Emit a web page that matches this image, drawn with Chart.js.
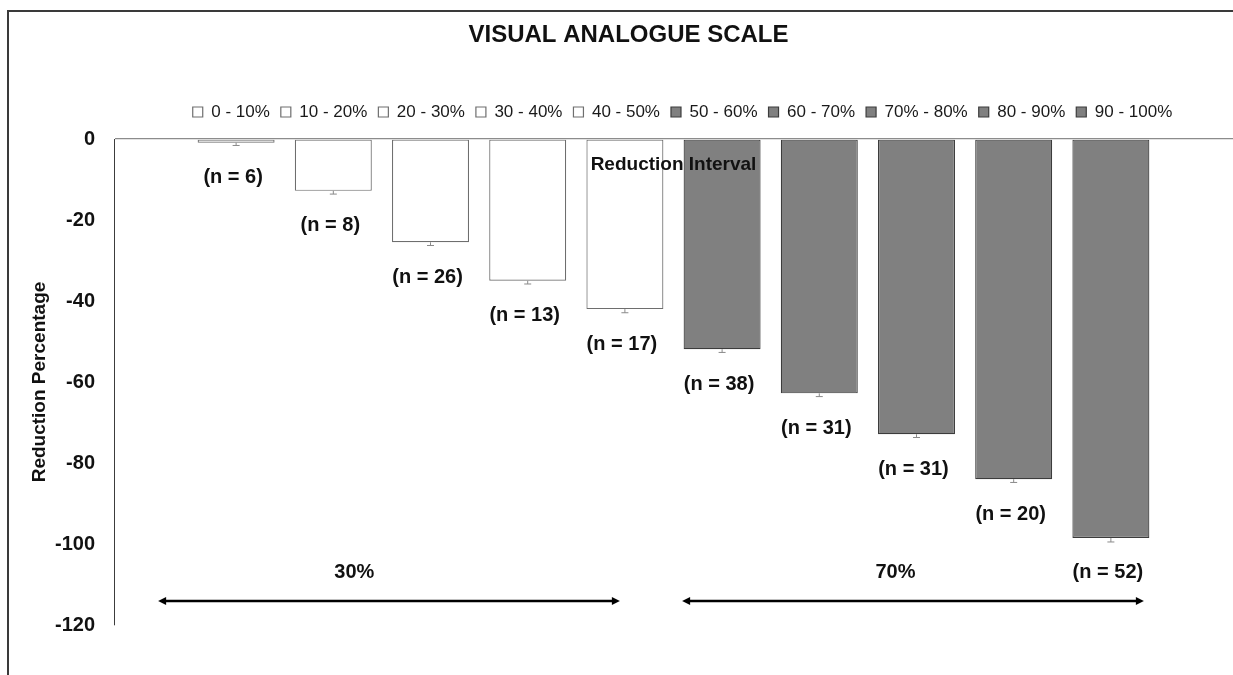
<!DOCTYPE html>
<html>
<head>
<meta charset="utf-8">
<script src="https://cdn.jsdelivr.net/npm/chart.js@4/dist/chart.umd.min.js"></script>
<style>
  html, body { margin: 0; padding: 0; background: #ffffff; overflow: hidden; }
  #wrap { position: relative; width: 1233px; height: 675px; }
  #frame { position: absolute; left: 7px; top: 10px; width: 1300px; height: 700px;
           border-left: 2px solid #3a3a3a; border-top: 2px solid #3a3a3a; box-sizing: border-box; }
  canvas { position: absolute; left: 0; top: 0; }
</style>
</head>
<body>
<div id="wrap">
  <div id="frame"></div>
  <canvas id="c" width="1233" height="675"></canvas>
</div>
<script>
// ---- data ----
const categories = ['Reduction Interval'];
const intervals = ['0 - 10%', '10 - 20%', '20 - 30%', '30 - 40%', '40 - 50%',
                   '50 - 60%', '60 - 70%', '70% - 80%', '80 - 90%', '90 - 100%'];
const reductionMeans = [-0.9, -12.8, -25.5, -35.0, -42.0, -51.9, -62.8, -72.9, -84.0, -98.5];
const errorMargins = [0.7, 0.8, 0.8, 0.8, 0.9, 0.8, 0.8, 0.8, 0.8, 1.0];
const sampleSizes = [6, 8, 26, 13, 17, 38, 31, 31, 20, 52];
const groupLabels = ['30%', '70%'];
const groupMembers = [[0, 4], [5, 9]];
const yMin = -120, yMax = 0, yStep = 20;

const FONT = '"Liberation Sans", Arial, Helvetica, sans-serif';
const whiteFill = '#ffffff', whiteBorder = '#6e6e6e';
const grayFill = '#808080', grayBorder = '#3c3c3c';

const datasets = intervals.map((name, i) => ({
  label: name,
  data: [reductionMeans[i]],
  backgroundColor: i < 5 ? whiteFill : grayFill,
  borderColor: i < 5 ? whiteBorder : grayBorder,
  borderWidth: 1.2,
  borderSkipped: false
}));

const shiftPlugin = {
  id: 'shiftBlocks',
  afterLayout(chart) {
    const t = chart.titleBlock;
    if (t) { t.left += 12; t.right += 12; }
    const l = chart.legend;
    if (l) { l.left += 66; l.right += 66; l.top -= 8.5; l.bottom -= 8.5; }
  }
};

const annotPlugin = {
  id: 'annot',
  afterDatasetsDraw(chart) {
    const ctx = chart.ctx;
    const ys = chart.scales.y, xs = chart.scales.x;
    const area = chart.chartArea;
    const bars = intervals.map((_, i) => chart.getDatasetMeta(i).data[0]);
    ctx.save();
    // error bars (lower whisker)
    ctx.strokeStyle = '#8a8a8a';
    ctx.lineWidth = 1;
    bars.forEach((b, i) => {
      const y0 = ys.getPixelForValue(reductionMeans[i]);
      const y1 = ys.getPixelForValue(reductionMeans[i] - errorMargins[i]);
      ctx.beginPath();
      ctx.moveTo(b.x, y0); ctx.lineTo(b.x, y1);
      ctx.moveTo(b.x - 3.5, y1); ctx.lineTo(b.x + 3.5, y1);
      ctx.stroke();
    });
    // n labels
    ctx.fillStyle = '#111111';
    ctx.font = 'bold 20px ' + FONT;
    ctx.textAlign = 'center';
    ctx.textBaseline = 'middle';
    bars.forEach((b, i) => {
      const y = ys.getPixelForValue(reductionMeans[i]);
      ctx.fillText('(n = ' + sampleSizes[i] + ')', b.x - 3, y + 35);
    });
    // category / axis title inside plot
    ctx.font = 'bold 19px ' + FONT;
    ctx.fillText(categories[0], xs.getPixelForValue(0), area.top + 26);
    // group arrows
    const arrowY = area.bottom - 24;
    const spans = [
      [bars[groupMembers[0][0]].x - 78, bars[groupMembers[0][1]].x - 5],
      [bars[groupMembers[1][0]].x - 40, bars[groupMembers[1][1]].x + 33]
    ];
    const textX = [bars[1].x + 21, bars[7].x - 21];
    spans.forEach(([x0, x1], g) => {
      ctx.strokeStyle = '#000000';
      ctx.fillStyle = '#000000';
      ctx.lineWidth = 2.5;
      ctx.beginPath();
      ctx.moveTo(x0 + 5, arrowY); ctx.lineTo(x1 - 5, arrowY);
      ctx.stroke();
      ctx.beginPath();
      ctx.moveTo(x0, arrowY); ctx.lineTo(x0 + 8, arrowY - 4); ctx.lineTo(x0 + 8, arrowY + 4); ctx.closePath();
      ctx.fill();
      ctx.beginPath();
      ctx.moveTo(x1, arrowY); ctx.lineTo(x1 - 8, arrowY - 4); ctx.lineTo(x1 - 8, arrowY + 4); ctx.closePath();
      ctx.fill();
      ctx.font = 'bold 20px ' + FONT;
      ctx.fillStyle = '#111111';
      ctx.fillText(groupLabels[g], textX[g], arrowY - 29);
    });
    ctx.restore();
  }
};

new Chart(document.getElementById('c'), {
  type: 'bar',
  data: { labels: categories, datasets },
  options: {
    responsive: false,
    animation: false,
    events: [],
    layout: { padding: { left: 0, right: 0, top: 0, bottom: 50 } },
    datasets: { bar: { categoryPercentage: 0.8686, barPercentage: 0.792 } },
    scales: {
      x: { display: false },
      y: {
        min: yMin, max: yMax,
        ticks: {
          stepSize: yStep,
          padding: 19,
          color: '#111111',
          font: { family: FONT, size: 20, weight: 'bold' }
        },
        grid: {
          drawTicks: false,
          color: ctx => (ctx.tick && ctx.tick.value === 0) ? '#8c8c8c' : 'rgba(0,0,0,0)',
          lineWidth: 1.3
        },
        border: { display: true, color: '#3c3c3c', width: 1 },
        title: {
          display: true,
          text: 'Reduction Percentage',
          color: '#111111',
          font: { family: FONT, size: 19, weight: 'bold' },
          padding: { top: 28.6, bottom: 0 }
        },
        afterFit(scale) { scale.width = 114; }
      }
    },
    plugins: {
      tooltip: { enabled: false },
      title: {
        display: true,
        text: 'VISUAL ANALOGUE SCALE',
        color: '#111111',
        font: { family: FONT, size: 24, weight: 'bold' },
        padding: { top: 20.6, bottom: 51.6 }
      },
      legend: {
        display: true,
        position: 'top',
        labels: {
          color: '#1a1a1a',
          font: { family: FONT, size: 17 },
          boxWidth: 10,
          boxHeight: 10,
          padding: 11
        }
      }
    }
  },
  plugins: [shiftPlugin, annotPlugin]
});
</script>
</body>
</html>
